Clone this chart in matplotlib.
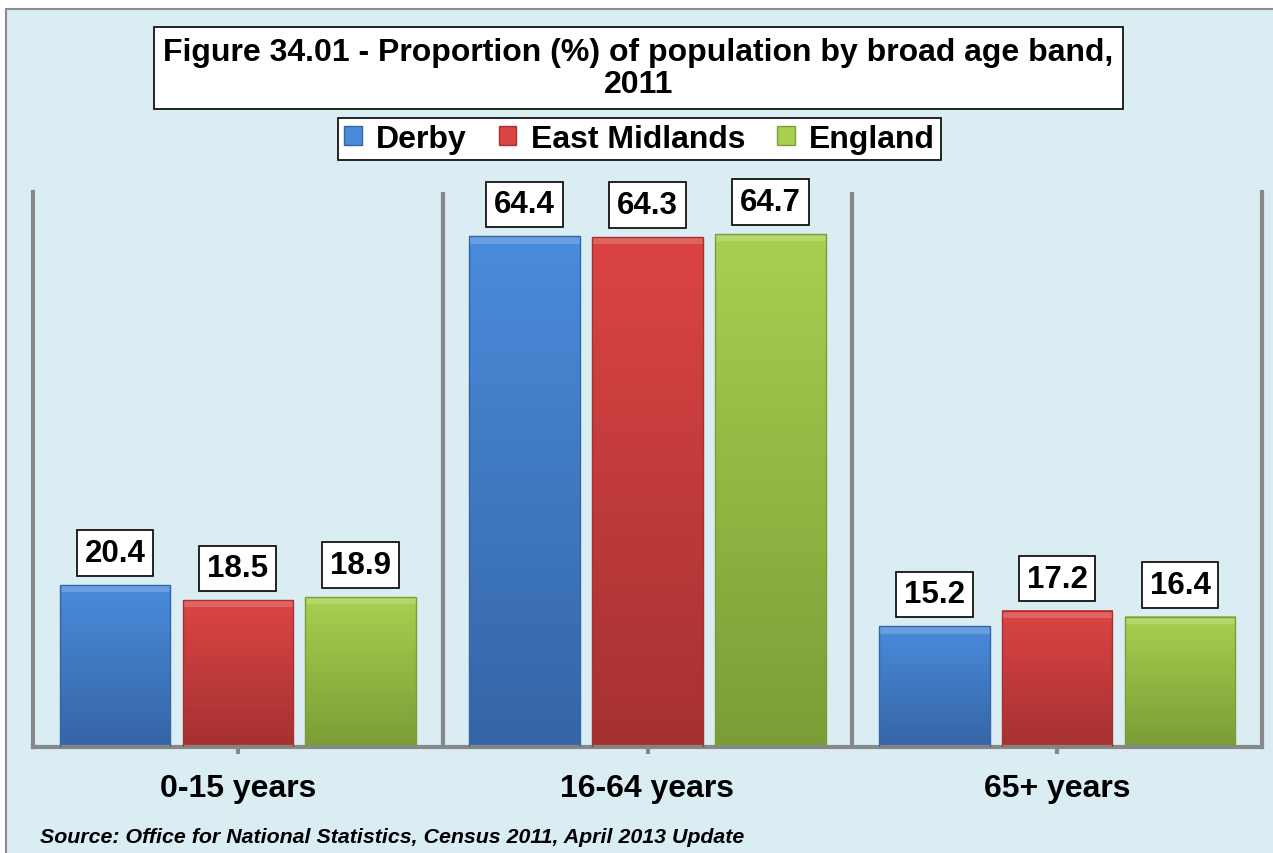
import numpy as np
import matplotlib
matplotlib.use('Agg')
import matplotlib.pyplot as plt
from matplotlib.patches import Rectangle, Patch
from matplotlib.colors import LinearSegmentedColormap

categories = ['0-15 years', '16-64 years', '65+ years']
series = ['Derby', 'East Midlands', 'England']
derby = [20.4, 64.4, 15.2]
east_midlands = [18.5, 64.3, 17.2]
england = [18.9, 64.7, 16.4]

title = 'Figure 34.01 - Proportion (%) of population by broad age band,\n2011'
source = 'Source: Office for National Statistics, Census 2011, April 2013 Update'

# (top colour, bottom colour) for each series
colours = [('#4a8bdb', '#3565a6'), ('#dc4444', '#a53131'), ('#a8d050', '#7c9c36')]

plt.rcParams['font.family'] = ['Liberation Sans', 'DejaVu Sans']
bg = '#daedf3'

fig = plt.figure(figsize=(12.73, 8.54), dpi=100)
fig.patch.set_facecolor('white')
# outer chart-area frame
fig.patches.append(Rectangle((6 / 1273, -0.01), 1.0, 1 - 10 / 854 + 0.01,
                             transform=fig.transFigure, facecolor=bg,
                             edgecolor='#8c8c8c', linewidth=1.5, zorder=-5))

ax = fig.add_axes([33 / 1273, 1 - 748 / 854, (1262 - 33) / 1273, (748 - 193) / 854])
ax.set_facecolor('none')
ax.set_zorder(2)

x = np.arange(len(categories))
width = 0.27
gap = 0.30
values = [derby, east_midlands, england]

for i, (vals, name) in enumerate(zip(values, series)):
    bars = ax.bar(x + (i - 1) * gap, vals, width, color=colours[i][0], label=name, zorder=2)
    cmap = LinearSegmentedColormap.from_list('g%d' % i, [colours[i][1], colours[i][0]])
    for b, v in zip(bars, vals):
        x0, y0 = b.get_x(), b.get_y()
        w, h = b.get_width(), b.get_height()
        b.set_facecolor('none')
        b.set_edgecolor('none')
        grad = np.linspace(0, 1, 256).reshape(-1, 1)
        ax.imshow(grad, extent=(x0, x0 + w, y0, y0 + h), origin='lower',
                  cmap=cmap, aspect='auto', zorder=2)
        # bevel highlight at top and dark edge round the bar
        ax.add_patch(Rectangle((x0, y0 + h - 0.9), w, 0.9, facecolor='white',
                               alpha=0.18, edgecolor='none', zorder=3))
        ax.add_patch(Rectangle((x0, y0), w, h, facecolor='none',
                               edgecolor=colours[i][1], linewidth=1, zorder=3))
        ax.annotate('%.1f' % v, (x0 + w / 2, y0 + h), xytext=(0, 17),
                    textcoords='offset pixels', ha='center', va='bottom',
                    fontsize=22.5, fontweight='bold', zorder=5,
                    bbox=dict(boxstyle='square,pad=0.25', facecolor='white',
                              edgecolor='black', linewidth=1.2))
ax.set_xlim(-0.5, 2.5)
ax.set_ylim(0, 70)

# category separators
for b in [0.5, 1.5]:
    ax.axvline(b, color='#888888', linewidth=3, zorder=1)

ax.spines['top'].set_visible(False)
for side in ['left', 'right', 'bottom']:
    ax.spines[side].set_color('#888888')
    ax.spines[side].set_linewidth(3)

ax.set_yticks([])
ax.set_xticks(x)
ax.set_xticklabels(categories, fontsize=23, fontweight='bold')
ax.tick_params(axis='x', length=5, width=3, color='#888888', pad=14)

fig.text(0.5016, 1 - 69 / 854, title, ha='center', va='center', fontsize=23,
         fontweight='bold', linespacing=1.1,
         bbox=dict(boxstyle='square,pad=0.3', facecolor='white', edgecolor='black',
                   linewidth=1.2))

handles = [Patch(facecolor=c[0], edgecolor=c[1]) for c in colours]
leg = fig.legend(handles, series, loc='center', bbox_to_anchor=(0.5024, 1 - 140 / 854),
                 ncol=3, frameon=True, fancybox=False, prop={'size': 23, 'weight': 'bold'},
                 handlelength=0.55, handleheight=0.55, handletextpad=0.45, columnspacing=1.0,
                 borderpad=0.2, edgecolor='black')
leg.get_frame().set_linewidth(1.2)
leg.get_frame().set_alpha(None)
leg.get_frame().set_facecolor('white')

fig.text(40 / 1273, 1 - 838 / 854, source, ha='left', va='center', fontsize=15.4,
         fontweight='bold', style='italic')

fig.savefig('out.png', dpi=100, facecolor=fig.get_facecolor())
